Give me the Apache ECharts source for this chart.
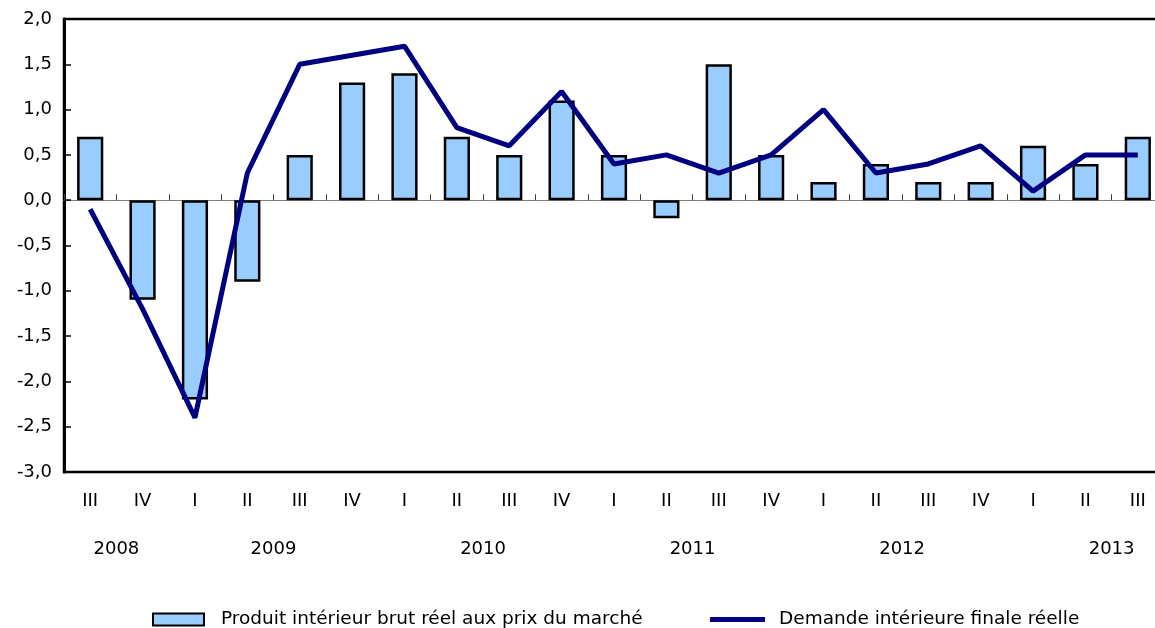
<!DOCTYPE html>
<html>
<head>
<meta charset="utf-8">
<script src="https://cdn.jsdelivr.net/npm/echarts@6/dist/echarts.min.js"></script>
<style>html,body{margin:0;padding:0;background:#fff;overflow:hidden;width:1155px;height:628px;}#c{width:1172px;height:628px;}</style>
</head>
<body>
<div id="c"></div>
<script>
const quarters = ['III','IV','I','II','III','IV','I','II','III','IV','I','II','III','IV','I','II','III','IV','I','II','III'];
const quarterYears = [2008,2008,2009,2009,2009,2009,2010,2010,2010,2010,2011,2011,2011,2011,2012,2012,2012,2012,2013,2013,2013];
const gdp = [0.7,-1.1,-2.2,-0.9,0.5,1.3,1.4,0.7,0.5,1.1,0.5,-0.2,1.5,0.5,0.2,0.4,0.2,0.2,0.6,0.4,0.7];
const demand = [-0.1,-1.2,-2.4,0.3,1.5,1.6,1.7,0.8,0.6,1.2,0.4,0.5,0.3,0.5,1.0,0.3,0.4,0.6,0.1,0.5,0.5];
const yTicks = { min: -3, max: 2, step: 0.5 };
const seriesNames = ['Produit intérieur brut réel aux prix du marché', 'Demande intérieure finale réelle'];

// year label positions (in category units) derived from the quarter/year arrays
const yearPos = {};
const uniqueYears = [...new Set(quarterYears)];
uniqueYears.forEach((y, k) => {
  const first = quarterYears.indexOf(y);
  const last = quarterYears.lastIndexOf(y);
  let span = last - first + 1;
  if (k === uniqueYears.length - 1) span = Math.max(span, 4);
  yearPos[first + span / 2] = String(y);
});

const FONT = "'DejaVu Sans', 'Liberation Sans', Arial, sans-serif";
const chart = echarts.init(document.getElementById('c'));
chart.setOption({
  animation: false,
  textStyle: { fontFamily: FONT },
  grid: { left: 64, right: 8, top: 19, bottom: 156, show: true, borderColor: '#000', borderWidth: 2.5, backgroundColor: 'transparent' },
  legend: [
    {
      left: 152, top: 610, padding: 0,
      icon: 'rect', itemWidth: 51, itemHeight: 12,
      itemStyle: { color: '#99CCFF', borderColor: '#000', borderWidth: 2 },
      textStyle: { fontFamily: FONT, fontSize: 18.5, color: '#000', padding: [0, 0, 0, 12] },
      data: [seriesNames[0]]
    },
    {
      left: 710, top: 610, padding: 0,
      icon: 'rect', itemWidth: 55, itemHeight: 5,
      itemStyle: { color: '#000080', borderWidth: 0 },
      lineStyle: { width: 0 },
      textStyle: { fontFamily: FONT, fontSize: 18.5, color: '#000', padding: [0, 0, 0, 9] },
      data: [seriesNames[1]]
    }
  ],
  xAxis: [
    {
      type: 'category', data: quarters, boundaryGap: true,
      axisLine: { onZero: true, lineStyle: { color: '#808080', width: 1 } },
      axisTick: { show: true, inside: true, length: 6, interval: 0, lineStyle: { color: '#404040', width: 1 } },
      axisLabel: { show: false }
    },
    {
      type: 'category', data: quarters, boundaryGap: true, position: 'bottom',
      axisLine: { show: false, onZero: false },
      axisTick: { show: false },
      axisLabel: { show: true, interval: 0, margin: 20, fontSize: 18, color: '#000', fontFamily: FONT }
    },
    {
      type: 'value', min: 0, max: quarters.length, interval: 1, position: 'bottom', offset: 48,
      axisLine: { show: false, onZero: false }, axisTick: { show: false }, splitLine: { show: false },
      axisLabel: { show: true, margin: 20, fontSize: 18, color: '#000', fontFamily: FONT, showMinLabel: true, showMaxLabel: true,
        formatter: v => yearPos[v] || '' }
    }
  ],
  yAxis: {
    type: 'value', min: yTicks.min, max: yTicks.max, interval: yTicks.step,
    axisLine: { show: true, lineStyle: { color: '#000', width: 3 } },
    axisTick: { show: true, inside: true, length: 7, lineStyle: { color: '#000', width: 1.5 } },
    splitLine: { show: false },
    axisLabel: { fontSize: 18, color: '#000', margin: 12, fontFamily: FONT,
      formatter: v => v.toFixed(1).replace('.', ',') }
  },
  series: [
    {
      name: seriesNames[0], type: 'bar', data: gdp, barWidth: '50%', xAxisIndex: 0,
      itemStyle: { color: '#99CCFF', borderColor: '#000', borderWidth: 2.5 }
    },
    {
      name: seriesNames[1], type: 'line', data: demand, xAxisIndex: 0,
      symbol: 'none', showSymbol: false,
      lineStyle: { color: '#000080', width: 5 }, itemStyle: { color: '#000080' }
    }
  ]
});
</script>
</body>
</html>
